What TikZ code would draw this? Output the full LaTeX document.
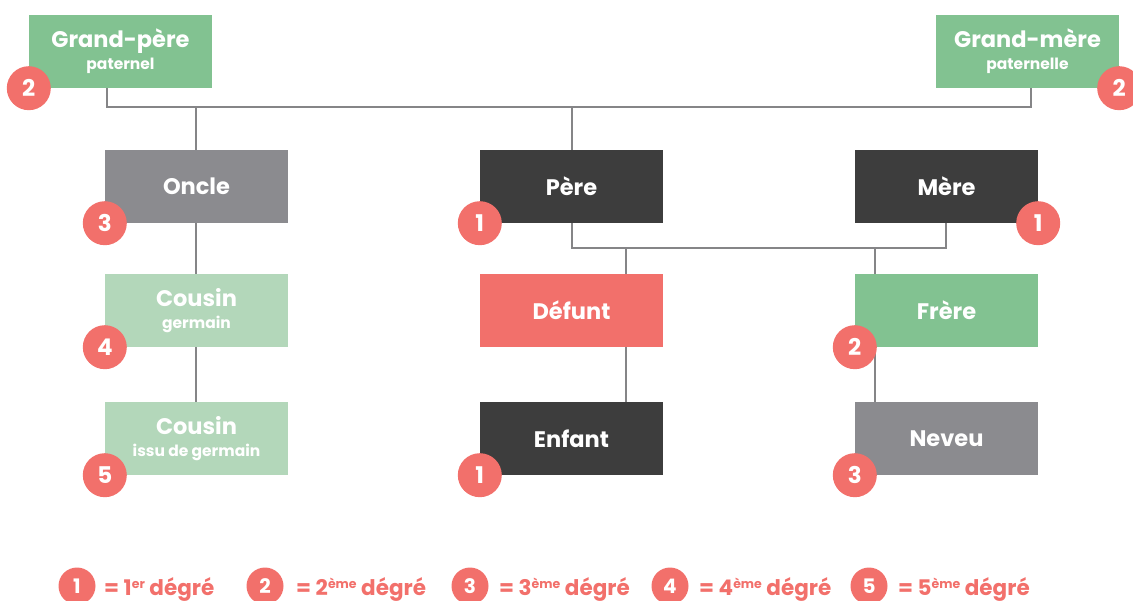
\documentclass[tikz,border=0pt]{standalone}
\usepackage{fontspec}
\setmainfont{Poppins}
\definecolor{gmid}{HTML}{82C291}
\definecolor{glight}{HTML}{B3D7BA}
\definecolor{dark}{HTML}{3D3D3D}
\definecolor{greybox}{HTML}{8B8B8F}
\definecolor{redc}{HTML}{F2706B}
\definecolor{linec}{HTML}{858587}
\newcommand{\sub}[1]{\\[-4pt]{\fontsize{15.5}{17}\selectfont #1}}
\newcommand{\sups}[1]{\raisebox{7pt}{\fontsize{12.5}{13}\selectfont #1}}
\tikzset{
  box/.style={minimum width=183pt, minimum height=73pt, inner sep=0pt, text=white,
    font=\fontsize{22.5}{26}\selectfont\bfseries, align=center},
  badge/.style={circle, fill=redc, minimum size=44pt, inner sep=0pt, text=white,
    font=\fontsize{23}{23}\selectfont\bfseries},
  lbadge/.style={circle, fill=redc, minimum size=37pt, inner sep=0pt, text=white,
    font=\fontsize{20}{20}\selectfont\bfseries},
  ltext/.style={anchor=base west, text=redc, inner sep=0pt, font=\fontsize{21.5}{24}\selectfont\bfseries},
  conn/.style={draw=linec, line width=2.6pt}
}
\begin{document}
\begin{tikzpicture}[x=1pt,y=-1pt]
\useasboundingbox (0,0) rectangle (1133,601);
\clip (0,0) rectangle (1133,601);
% boxes
\node[box, fill=gmid] (gp) at (120.5,51.5) {Grand-père\sub{paternel}};
\node[box, fill=gmid] (gm) at (1027.5,51.5) {Grand-mère\sub{paternelle}};
\node[box, fill=greybox] (oncle) at (196.5,186.5) {Oncle};
\node[box, fill=dark] (pere) at (571.5,186.5) {Père};
\node[box, fill=dark] (mere) at (946.5,186.5) {Mère};
\node[box, fill=glight] (cous1) at (196.5,310.5) {Cousin\sub{germain}};
\node[box, fill=redc] (defunt) at (571.5,310.5) {Défunt};
\node[box, fill=gmid] (frere) at (946.5,310.5) {Frère};
\node[box, fill=glight] (cous2) at (196.5,438.5) {Cousin\sub{issu de germain}};
\node[box, fill=dark] (enfant) at (571.5,438.5) {Enfant};
\node[box, fill=greybox] (neveu) at (946.5,438.5) {Neveu};
% junction coordinates
\coordinate (gpl) at (107,107);
\coordinate (gml) at (1031,107);
\coordinate (pl) at (572,248);
\coordinate (ml) at (946,248);
% connectors
\draw[conn] (gp.south -| gpl) -- (gpl) -- (gml) -- (gm.south -| gml);
\draw[conn] (oncle.north -| 196,0) -- (196,107);
\draw[conn] (pere.north -| 572,0) -- (572,107);
\draw[conn] (pere.south -| pl) -- (pl) -- (ml) -- (mere.south -| ml);
\draw[conn] (defunt.north -| 626,0) -- (626,248);
\draw[conn] (frere.north -| 875,0) -- (875,248);
\draw[conn] (oncle.south -| 196,0) -- (cous1.north -| 196,0);
\draw[conn] (cous1.south -| 196,0) -- (cous2.north -| 196,0);
\draw[conn] (defunt.south -| 626,0) -- (enfant.north -| 626,0);
\draw[conn] (frere.south -| 875,0) -- (neveu.north -| 875,0);
% badges
\node[badge] (bgp) at (gp.south west) {2};
\node[badge] (bgm) at (gm.south east) {2};
\node[badge] (bon) at (oncle.south west) {3};
\node[badge] (bpe) at (pere.south west) {1};
\node[badge] (bme) at (mere.south east) {1};
\node[badge] (bc1) at (cous1.south west) {4};
\node[badge] (bfr) at (frere.south west) {2};
\node[badge] (bc2) at (cous2.south west) {5};
\node[badge] (ben) at (enfant.south west) {1};
\node[badge] (bne) at (neveu.south west) {3};
% legend
\node[lbadge] (l1) at (77,586) {1};
\node[ltext] (t1) at (104,595) {= 1\sups{er} dégré};
\node[lbadge] (l2) at (265,586) {2};
\node[ltext] (t2) at (296,595) {= 2\sups{ème} dégré};
\node[lbadge] (l3) at (470,586) {3};
\node[ltext] (t3) at (499,595) {= 3\sups{ème} dégré};
\node[lbadge] (l4) at (670,586) {4};
\node[ltext] (t4) at (699,595) {= 4\sups{ème} dégré};
\node[lbadge] (l5) at (869,586) {5};
\node[ltext] (t5) at (898,595) {= 5\sups{ème} dégré};
\end{tikzpicture}
\end{document}
